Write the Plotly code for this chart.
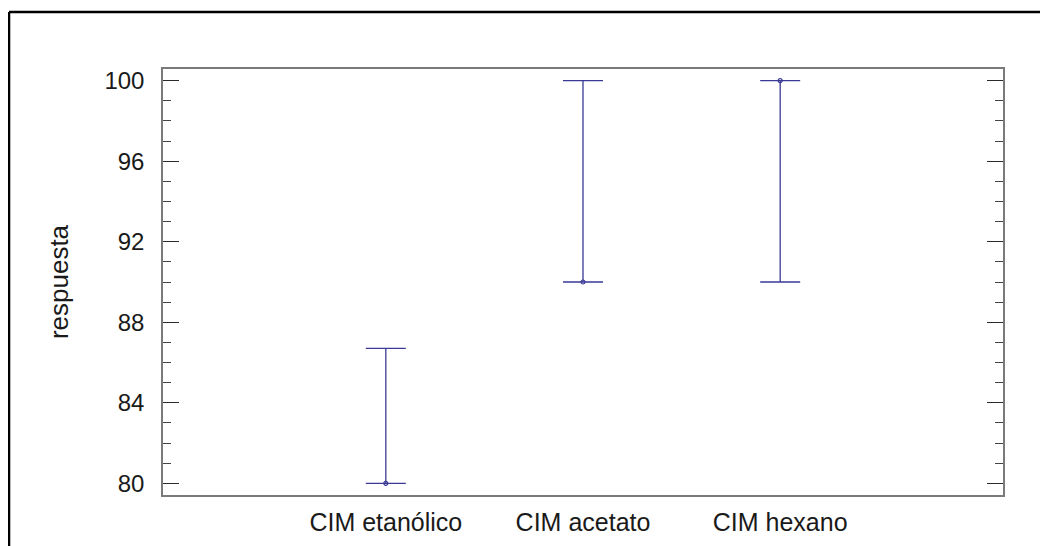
import plotly.graph_objects as go

categories = ["CIM etanólico", "CIM acetato", "CIM hexano"]
point_values = [80.0, 90.0, 100.0]
lower_values = [80.0, 90.0, 90.0]
upper_values = [86.7, 100.0, 100.0]
y_tick_values = [80, 84, 88, 92, 96, 100]

err_plus = [u - p for u, p in zip(upper_values, point_values)]
err_minus = [p - l for p, l in zip(point_values, lower_values)]

line_col = "#3a3a96"

fig = go.Figure()
fig.add_trace(go.Scatter(
    x=categories, y=point_values, mode="markers",
    marker=dict(symbol="circle-open", size=4, color=line_col, line=dict(width=1.2, color=line_col)),
    error_y=dict(type="data", symmetric=False, array=err_plus, arrayminus=err_minus,
                 color=line_col, thickness=1.3, width=20),
    showlegend=False,
))

font_family = "Liberation Sans, Arial, sans-serif"
fig.update_layout(
    width=1048, height=546,
    margin=dict(l=155, r=53, t=61, b=59),
    paper_bgcolor="white", plot_bgcolor="white",
    font=dict(family=font_family, size=24, color="#1a1a1a"),
    xaxis=dict(
        type="category", categoryorder="array", categoryarray=categories,
        range=[-1.13, 3.13], showgrid=False, zeroline=False,
        showline=True, linecolor="#7a7a7a", linewidth=1.5, mirror=True,
        ticks="", ticklabelstandoff=4, tickfont=dict(size=25),
    ),
    yaxis=dict(
        range=[79.42, 100.58], showgrid=False, zeroline=False,
        showline=True, linecolor="#7a7a7a", linewidth=1.5, mirror="ticks",
        tickvals=y_tick_values, ticktext=[str(v) for v in y_tick_values],
        ticks="inside", ticklen=16, tickwidth=1.4, tickcolor="#2a2a2a",
        minor=dict(dtick=1, tick0=80, ticks="inside", ticklen=8, tickwidth=1.3, tickcolor="#444444", showgrid=False),
        ticklabelstandoff=12, tickfont=dict(size=24),
        title=dict(text="respuesta", font=dict(size=26), standoff=28),
    ),
    shapes=[
        dict(type="line", xref="paper", yref="paper", x0=-0.1833, x1=-0.1833, y0=1.1338, y1=-0.3,
             line=dict(color="black", width=2.5)),
        dict(type="line", xref="paper", yref="paper", x0=-0.1833, x1=1.15, y0=1.1338, y1=1.1338,
             line=dict(color="black", width=2.5)),
    ],
)

fig.write_html("out.html")
